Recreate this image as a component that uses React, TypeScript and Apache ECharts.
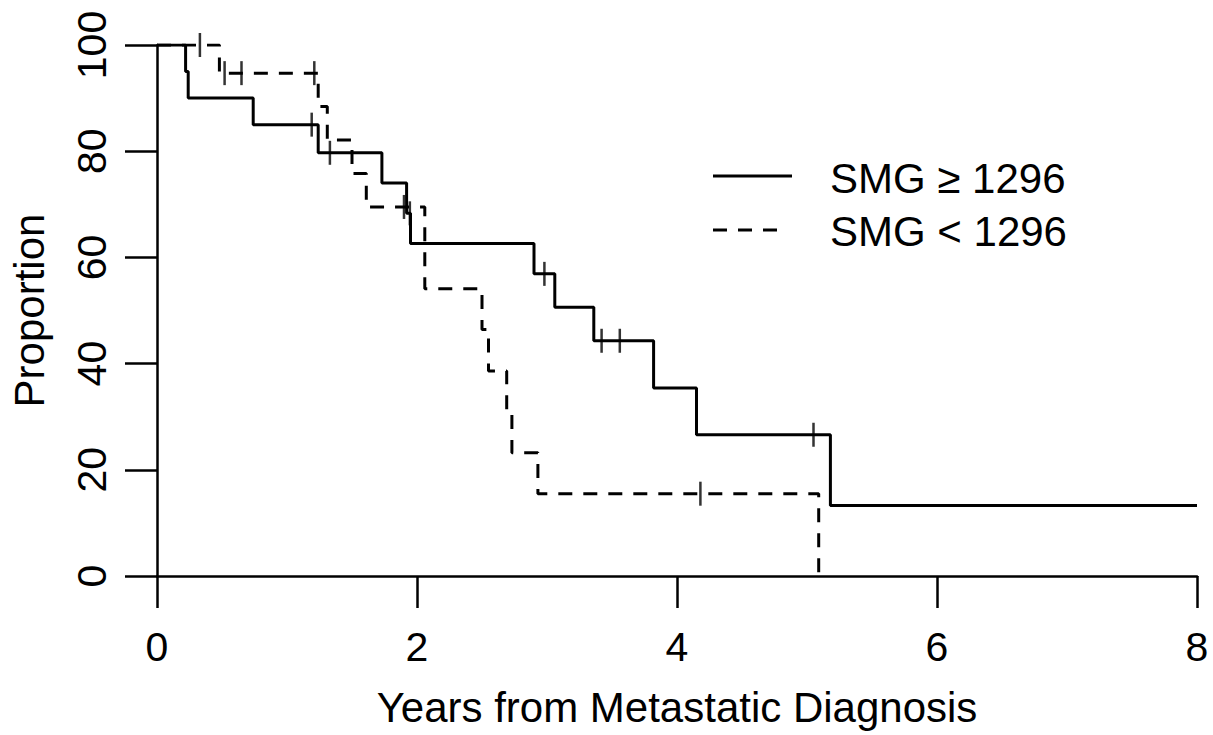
import React, { useEffect, useRef } from "react";
import * as echarts from "echarts";

// SMG >= 1296 (solid) Kaplan-Meier steps
const solidTimes = [0, 0.22, 0.24, 0.74, 1.24, 1.73, 1.92, 1.95, 2.9, 3.06, 3.36, 3.82, 4.15, 5.18, 8.0];
const solidSurv = [100, 95, 90, 85, 79.7, 74.0, 68.3, 62.6, 56.9, 50.6, 44.3, 35.4, 26.6, 13.3, 13.3];
const solidCensorTimes = [1.19, 1.33, 1.945, 2.98, 3.42, 3.56, 5.05];
const solidCensorSurv = [85, 79.7, 68.3, 56.9, 44.3, 44.3, 26.6];

// SMG < 1296 (dashed)
const dashTimes = [0, 0.48, 1.24, 1.31, 1.5, 1.61, 2.06, 2.5, 2.55, 2.69, 2.73, 2.93, 5.09];
const dashSurv = [100, 94.7, 88.4, 82.1, 75.8, 69.5, 54.1, 46.4, 38.6, 30.9, 23.2, 15.5, 0];
const dashCensorTimes = [0.33, 0.52, 0.65, 1.21, 1.9, 4.18];
const dashCensorSurv = [100, 94.7, 94.7, 94.7, 69.5, 15.5];

const legendLabels = ["SMG \u2265 1296", "SMG < 1296"];
const xTitle = "Years from Metastatic Diagnosis";
const yTitle = "Proportion";

const FONT = "Liberation Sans, Arial, sans-serif";
const DASH = [14, 11];

export default function App() {
  const ref = useRef<HTMLDivElement>(null);
  useEffect(() => {
    if (!ref.current) return;
    const chart = echarts.init(ref.current, undefined, { renderer: "svg" });
    const axisCommon = {
      axisLine: { show: true, lineStyle: { color: "#000", width: 2.5 } },
      axisTick: { show: true, length: 32, lineStyle: { color: "#000", width: 2.5 } },
      splitLine: { show: false },
    };
    chart.setOption({
      animation: false,
      backgroundColor: "#fff",
      grid: { left: 155, right: 16, top: 45, bottom: 159, containLabel: false },
      xAxis: {
        type: "value",
        min: 0,
        max: 8,
        interval: 2,
        ...axisCommon,
        axisLabel: { fontSize: 41, color: "#000", margin: 50, fontFamily: FONT },
        name: xTitle,
        nameLocation: "middle",
        nameGap: 110,
        nameTextStyle: { fontSize: 42, color: "#000", fontFamily: FONT },
      },
      yAxis: {
        type: "value",
        min: 0,
        max: 100,
        interval: 20,
        ...axisCommon,
        axisLabel: { fontSize: 41, color: "#000", margin: 45, rotate: 90, fontFamily: FONT },
        name: yTitle,
        nameLocation: "middle",
        nameGap: 107,
        nameRotate: 90,
        nameTextStyle: { fontSize: 42, color: "#000", fontFamily: FONT },
      },
      series: [
        {
          name: legendLabels[0],
          type: "line",
          step: "end",
          symbol: "none",
          data: solidTimes.map((t, i) => [t, solidSurv[i]]),
          lineStyle: { color: "#000", width: 3 },
        },
        {
          name: legendLabels[1],
          type: "line",
          step: "end",
          symbol: "none",
          data: dashTimes.map((t, i) => [t, dashSurv[i]]),
          lineStyle: { color: "#000", width: 3, type: DASH },
        },
        {
          type: "scatter",
          symbol: "rect",
          symbolSize: [2.5, 24],
          itemStyle: { color: "#000" },
          data: solidCensorTimes.map((t, i) => [t, solidCensorSurv[i]]),
          z: 5,
        },
        {
          type: "scatter",
          symbol: "rect",
          symbolSize: [2.5, 24],
          itemStyle: { color: "#000" },
          data: dashCensorTimes.map((t, i) => [t, dashCensorSurv[i]]),
          z: 5,
        },
      ],
      graphic: [
        { type: "line", shape: { x1: 713, y1: 176, x2: 792, y2: 176 }, style: { stroke: "#000", lineWidth: 3 } },
        { type: "line", shape: { x1: 713, y1: 230, x2: 778, y2: 230 }, style: { stroke: "#000", lineWidth: 3, lineDash: DASH } },
        {
          type: "text",
          x: 830,
          y: 178,
          style: { text: legendLabels[0], fontSize: 42, fill: "#000", fontFamily: FONT, verticalAlign: "middle", align: "left" },
        },
        {
          type: "text",
          x: 830,
          y: 231,
          style: { text: legendLabels[1], fontSize: 42, fill: "#000", fontFamily: FONT, verticalAlign: "middle", align: "left" },
        },
      ],
    });
    return () => chart.dispose();
  }, []);
  return (
    <div
      ref={ref}
      style={{ position: "fixed", left: 0, top: 0, width: 1213, height: 735, background: "#fff" }}
    />
  );
}
